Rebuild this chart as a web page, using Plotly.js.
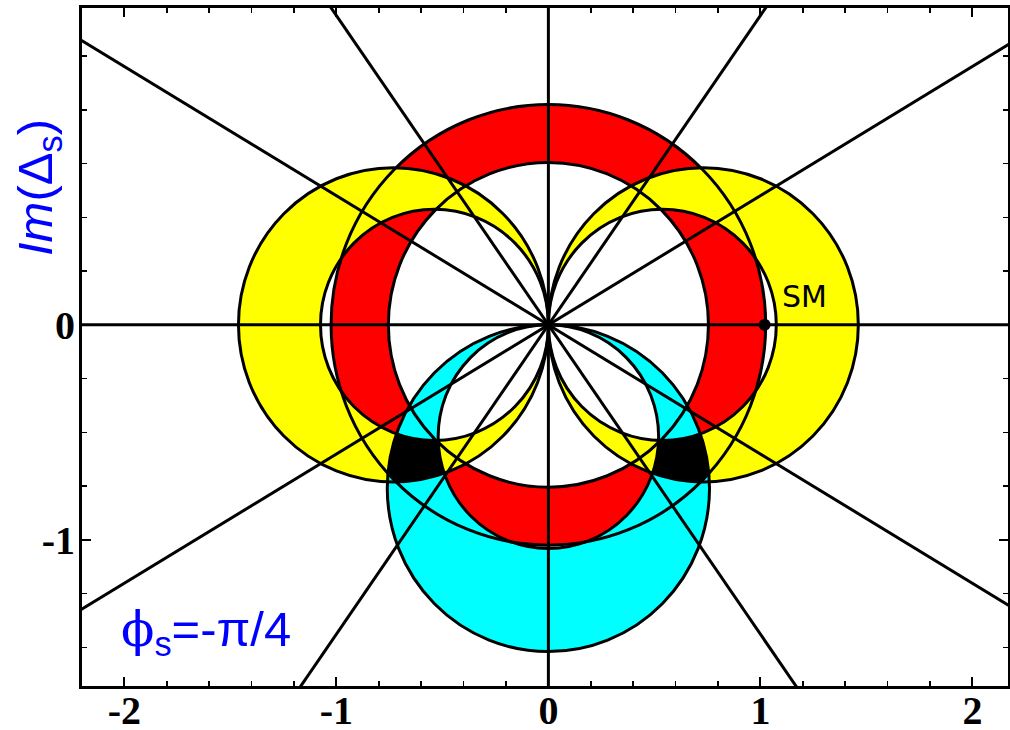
<!DOCTYPE html>
<html><head><meta charset="utf-8">
<script src="https://cdn.plot.ly/plotly-3.0.1.min.js"></script>
<style>body{margin:0;background:#fff}#chart{width:1010px;height:730px}</style>
</head><body><div id="chart"></div>
<script>
// ---- constraint parameters (units of Delta_s) ----
const dMsRadii = [0.755, 1.025];          // red annulus: |Delta_s| range, centred at origin
const dGammaDiameters = [1.075, 1.462];   // yellow: circles through origin, centres on real axis at +-D/2
const afsDiameters = [1.04, 1.52];        // cyan: circles through origin, centres on negative imaginary axis
const phiLineAngles = [31, 55.2];         // degrees: lines through origin (four-fold ambiguity)
const smX = [1.02];
const smY = [0];
const xTickVals = [-2, -1, 0, 1, 2];
const xTickText = ['-2', '-1', '0', '1', '2'];
const yTickVals = [-1, 0];
const yTickText = ['-1', '0'];

const N = 360;
function ringPath(cx, cy, r) {
  let s = '';
  for (let i = 0; i < N; i++) {
    const a = 2 * Math.PI * i / N;
    s += (i ? 'L' : 'M') + (cx + r * Math.cos(a)).toFixed(4) + ',' + (cy + r * Math.sin(a)).toFixed(4);
  }
  return s + 'Z';
}
const hyp = (x, y) => Math.sqrt(x * x + y * y);
function inRed(x, y) { const r = hyp(x, y); return r >= dMsRadii[0] && r <= dMsRadii[1]; }
function inYellow(x, y) {
  const [di, dout] = dGammaDiameters;
  for (const s of [-1, 1]) {
    if (hyp(x - s * dout / 2, y) <= dout / 2 && hyp(x - s * di / 2, y) >= di / 2) return true;
  }
  return false;
}
function inCyan(x, y) {
  const [ci, co] = afsDiameters;
  return hyp(x, y + co / 2) <= co / 2 && hyp(x, y + ci / 2) >= ci / 2;
}
const inAll = (x, y) => inRed(x, y) && inYellow(x, y) && inCyan(x, y);

// find the overlap regions (black) by sampling, then trace their outline along rays
function blackPaths() {
  const groups = {L: [], R: []};
  for (let x = -2; x <= 2; x += 0.01) for (let y = -1.6; y <= 1.4; y += 0.01) {
    if (inAll(x, y)) groups[x < 0 ? 'L' : 'R'].push([x, y]);
  }
  const out = [];
  for (const k of ['L', 'R']) {
    const pts = groups[k]; if (!pts.length) continue;
    let cx = 0, cy = 0; pts.forEach(p => { cx += p[0]; cy += p[1]; }); cx /= pts.length; cy /= pts.length;
    let s = '';
    for (let i = 0; i < N; i++) {
      const a = 2 * Math.PI * i / N, ux = Math.cos(a), uy = Math.sin(a);
      let t = 0; while (t < 0.6 && inAll(cx + (t + 0.002) * ux, cy + (t + 0.002) * uy)) t += 0.002;
      s += (i ? 'L' : 'M') + (cx + t * ux).toFixed(4) + ',' + (cy + t * uy).toFixed(4);
    }
    out.push(s + 'Z');
  }
  return out;
}

const shapes = [];
const fill = (path, color) => shapes.push({type: 'path', xref: 'x', yref: 'y', path, fillcolor: color,
  fillrule: 'evenodd', line: {width: 0}, layer: 'below'});
fill(ringPath(0, 0, dMsRadii[1]) + ringPath(0, 0, dMsRadii[0]), '#ff0000');
for (const s of [-1, 1]) {
  fill(ringPath(s * dGammaDiameters[1] / 2, 0, dGammaDiameters[1] / 2) +
       ringPath(s * dGammaDiameters[0] / 2, 0, dGammaDiameters[0] / 2), '#ffff00');
}
fill(ringPath(0, -afsDiameters[1] / 2, afsDiameters[1] / 2) + ringPath(0, -afsDiameters[0] / 2, afsDiameters[0] / 2), '#00ffff');
blackPaths().forEach(p => fill(p, '#000000'));

const LW = 3;
const circle = (cx, cy, r) => shapes.push({type: 'circle', xref: 'x', yref: 'y', x0: cx - r, x1: cx + r,
  y0: cy - r, y1: cy + r, line: {color: '#000', width: LW}, fillcolor: 'rgba(0,0,0,0)', layer: 'below'});
dMsRadii.forEach(r => circle(0, 0, r));
dGammaDiameters.forEach(d => { circle(-d / 2, 0, d / 2); circle(d / 2, 0, d / 2); });
afsDiameters.forEach(d => circle(0, -d / 2, d / 2));
const L = 5;
phiLineAngles.forEach(deg => {
  for (const a of [deg, 180 - deg]) {
    const r = a * Math.PI / 180;
    shapes.push({type: 'line', xref: 'x', yref: 'y', x0: -L * Math.cos(r), y0: -L * Math.sin(r),
      x1: L * Math.cos(r), y1: L * Math.sin(r), line: {color: '#000', width: LW}, layer: 'below'});
  }
});
shapes.push({type: 'line', xref: 'x', yref: 'y', x0: -L, x1: L, y0: 0, y1: 0, line: {color: '#000', width: LW}, layer: 'below'});
shapes.push({type: 'line', xref: 'x', yref: 'y', x0: 0, x1: 0, y0: -L, y1: L, line: {color: '#000', width: LW}, layer: 'below'});

const tickFont = {family: 'Liberation Serif', size: 40, color: '#000', weight: 'bold'};
const axisCommon = {ticks: 'inside', ticklen: 9, tickwidth: 2, tickcolor: '#000', showline: true, linewidth: 3,
  linecolor: '#000', mirror: 'ticks', zeroline: false, showgrid: false, tickfont: tickFont, tickmode: 'array'};

const layout = {
  width: 1010, height: 730, margin: {l: 82, r: 2, t: 8, b: 44}, showlegend: false,
  paper_bgcolor: '#fff', plot_bgcolor: '#fff', shapes,
  xaxis: Object.assign({}, axisCommon, {range: [-2.2, 2.168], tickvals: xTickVals, ticktext: xTickText,
    ticklabelstandoff: -13,
    minor: {tickmode: 'linear', tick0: 0, dtick: 0.2, ticks: 'inside', ticklen: 5, tickwidth: 1.5, tickcolor: '#000'}}),
  yaxis: Object.assign({}, axisCommon, {range: [-1.68, 1.474], tickvals: yTickVals, ticktext: yTickText,
    ticklabelstandoff: -4,
    minor: {tickmode: 'linear', tick0: 0, dtick: 0.25, ticks: 'inside', ticklen: 5, tickwidth: 1.5, tickcolor: '#000'}}),
  annotations: [
    {xref: 'paper', yref: 'paper', x: -0.0475, y: 0.7345, xanchor: 'center', yanchor: 'middle', textangle: -90,
     showarrow: false, text: '<i>Im</i>(Δ<sub>s</sub>)', font: {family: 'Liberation Sans', size: 49, color: '#0000ff'}},
    {xref: 'paper', yref: 'paper', x: 0.04, y: 0.08, xanchor: 'left', yanchor: 'middle', showarrow: false,
     text: '<span style="font-family:DejaVu Serif">ϕ</span><sub>s</sub>=-π/4',
     font: {family: 'Liberation Sans', size: 49, color: '#0000ff'}},
    {xref: 'x', yref: 'y', x: 1.208, y: 0.13, xanchor: 'center', yanchor: 'middle', showarrow: false,
     text: 'SM', font: {family: 'DejaVu Sans', size: 30, color: '#000'}}
  ]
};

const data = [{x: smX, y: smY, type: 'scatter', mode: 'markers', marker: {color: '#000', size: 12}, hoverinfo: 'skip'}];
Plotly.newPlot('chart', data, layout, {displayModeBar: false, staticPlot: true});
</script></body></html>
